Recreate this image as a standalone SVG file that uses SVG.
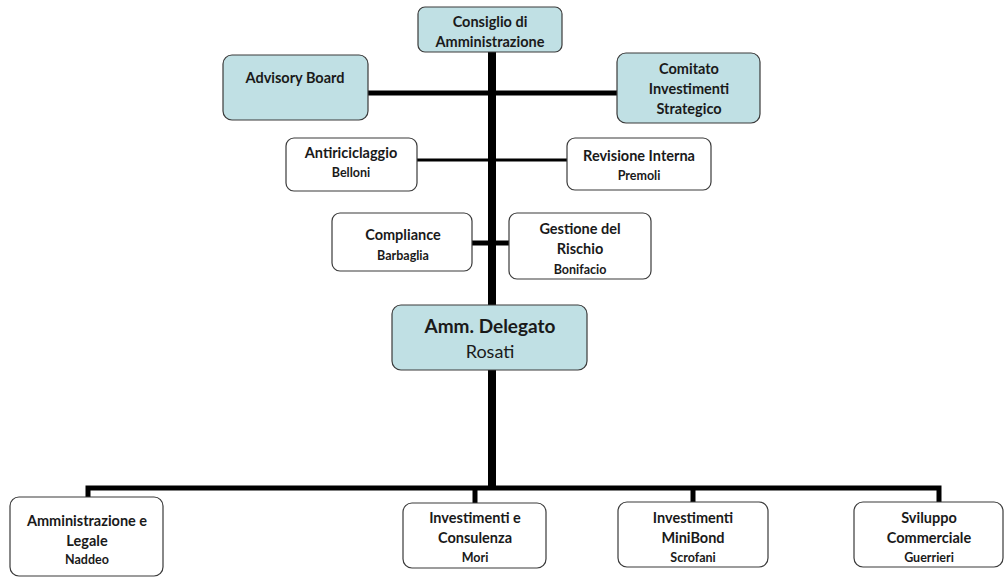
<svg xmlns="http://www.w3.org/2000/svg" width="1005" height="578" viewBox="0 0 1005 578">
<style>
.b{stroke:#3a3a3a;stroke-width:1.2}
.t{fill:#c0e0e4}
.w{fill:#fff}
text{font-family:Lato,"Open Sans","Liberation Sans",sans-serif;fill:#1a1a1a;text-anchor:middle}
.m{font-size:14.5px;font-weight:bold}
.s{font-size:12.5px;font-weight:bold}
.ln{stroke:#000;fill:none}
</style>
<rect width="1005" height="578" fill="#fff"/>
<g id="connectors">
<line class="ln" x1="492" y1="52" x2="492" y2="305" stroke-width="8"/>
<line class="ln" x1="492" y1="370" x2="492" y2="490" stroke-width="8"/>
<line class="ln" x1="368" y1="93" x2="617" y2="93" stroke-width="5"/>
<line class="ln" x1="417" y1="160" x2="567" y2="160" stroke-width="3"/>
<line class="ln" x1="472" y1="243" x2="509" y2="243" stroke-width="5"/>
<polyline class="ln" points="88,498 88,488 939,488 939,502" stroke-width="5"/>
<line class="ln" x1="475" y1="488" x2="475" y2="503" stroke-width="5"/>
<line class="ln" x1="693" y1="488" x2="693" y2="502" stroke-width="5"/>
</g>
<g id="consiglio"><rect class="b t" x="418" y="7" width="144" height="45" rx="7"/><text class="m" x="490" y="27">Consiglio di</text><text class="m" x="490" y="47">Amministrazione</text></g>
<g id="advisory"><rect class="b t" x="223" y="55" width="145" height="65" rx="9"/><text class="m" x="295" y="83">Advisory Board</text></g>
<g id="comitato"><rect class="b t" x="617" y="53" width="143" height="70" rx="9"/><text class="m" x="689" y="74">Comitato</text><text class="m" x="689" y="94">Investimenti</text><text class="m" x="689" y="114">Strategico</text></g>
<g id="antiriciclaggio"><rect class="b w" x="286" y="138" width="131" height="53" rx="8"/><text class="m" x="351" y="158">Antiriciclaggio</text><text class="s" x="351" y="177">Belloni</text></g>
<g id="revisione"><rect class="b w" x="567" y="138" width="144" height="52" rx="8"/><text class="m" x="639" y="161">Revisione Interna</text><text class="s" x="639" y="180">Premoli</text></g>
<g id="compliance"><rect class="b w" x="332" y="213" width="140" height="58" rx="8"/><text class="m" x="403" y="240">Compliance</text><text class="s" x="403" y="260">Barbaglia</text></g>
<g id="rischio"><rect class="b w" x="509" y="213" width="142" height="66" rx="8"/><text class="m" x="580" y="234">Gestione del</text><text class="m" x="580" y="254">Rischio</text><text class="s" x="580" y="274">Bonifacio</text></g>
<g id="delegato"><rect class="b t" x="392" y="305" width="195" height="65" rx="9"/><text x="490" y="333" style="font-size:19px;font-weight:bold">Amm. Delegato</text><text x="490" y="358" style="font-size:18px">Rosati</text></g>
<g id="amministrazione"><rect class="b w" x="10" y="497" width="153" height="79" rx="9"/><text class="m" x="87" y="526">Amministrazione e</text><text class="m" x="87" y="546">Legale</text><text class="s" x="87" y="564">Naddeo</text></g>
<g id="consulenza"><rect class="b w" x="403" y="503" width="143" height="65" rx="9"/><text class="m" x="475" y="523">Investimenti e</text><text class="m" x="475" y="543">Consulenza</text><text class="s" x="475" y="562">Mori</text></g>
<g id="minibond"><rect class="b w" x="618" y="502" width="150" height="65" rx="9"/><text class="m" x="693" y="523">Investimenti</text><text class="m" x="693" y="543">MiniBond</text><text class="s" x="693" y="562">Scrofani</text></g>
<g id="sviluppo"><rect class="b w" x="854" y="502" width="149" height="65" rx="9"/><text class="m" x="929" y="523">Sviluppo</text><text class="m" x="929" y="543">Commerciale</text><text class="s" x="929" y="562">Guerrieri</text></g>
</svg>
